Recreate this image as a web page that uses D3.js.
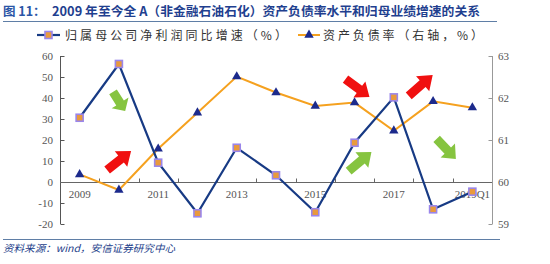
<!DOCTYPE html>
<html>
<head>
<meta charset="utf-8">
<script src="https://cdn.jsdelivr.net/npm/d3@7"></script>
<style>
  body { margin: 0; background: #fff; }
  .cjk { font-family: "Noto Sans CJK SC", sans-serif; }
  .num { font-family: "Liberation Serif", "DejaVu Serif", serif; }
</style>
</head>
<body>
<script>
// categories and series
var years = ["2009","2010","2011","2012","2013","2014","2015","2016","2017","2018","2019Q1"];
var profitGrowth = [30.6, 56.2, 9.2, -14.9, 16.3, 3.2, -14.4, 18.7, 40.3, -13.0, -4.6];
var debtRatio = [60.18, 59.81, 60.79, 61.65, 62.51, 62.13, 61.81, 61.89, 61.22, 61.92, 61.77];
var leftTicks = [-20, -10, 0, 10, 20, 30, 40, 50, 60];
var rightTicks = [59, 60, 61, 62, 63];
var xLabels = ["2009", "2011", "2013", "2015", "2017", "2019Q1"];
// annotation arrows: [tail index, tail value, head index, head value] in left-axis units
var redArrows = [[0.70, 5.7, 1.31, 14.8], [6.77, 49, 7.38, 40.5], [8.38, 41, 8.99, 51]];
var greenArrows = [[0.85, 42.9, 1.16, 33.8], [6.85, 5.2, 7.43, 14.3], [9.09, 20.5, 9.58, 11]];

var width = 550, height = 264;
var svg = d3.select("body").append("svg")
    .attr("width", width).attr("height", height);

var x = d3.scaleLinear().domain([-0.5, years.length - 0.5]).range([60, 492]);
var yL = d3.scaleLinear().domain([-20, 60]).range([224, 56]);
var yR = d3.scaleLinear().domain([59, 63]).range([224, 56]);

// title + rules
svg.append("text").attr("class", "cjk")
    .attr("x", 3).attr("y", 16)
    .attr("font-size", 12.5).attr("font-weight", "bold").attr("fill", "#2a55a6")
    .text("图 11：");
svg.append("text").attr("class", "cjk")
    .attr("x", 52).attr("y", 16)
    .attr("font-size", 12.5).attr("font-weight", "bold").attr("fill", "#1f3f8f")
    .attr("textLength", 428).attr("lengthAdjust", "spacingAndGlyphs")
    .text("2009 年至今全 A（非金融石油石化）资产负债率水平和归母业绩增速的关系");
svg.append("line").attr("x1", 3).attr("x2", 497).attr("y1", 21.5).attr("y2", 21.5)
    .attr("stroke", "#5f7ea6").attr("stroke-width", 1.2);
svg.append("line").attr("x1", 3).attr("x2", 500).attr("y1", 239.5).attr("y2", 239.5)
    .attr("stroke", "#5f7ea6").attr("stroke-width", 1.2);
svg.append("text").attr("class", "cjk")
    .attr("x", 3).attr("y", 252)
    .attr("font-size", 10).attr("font-style", "italic").attr("fill", "#23408a")
    .attr("textLength", 172).attr("lengthAdjust", "spacingAndGlyphs")
    .text("资料来源：wind，安信证券研究中心");

// left axis
var gl = svg.append("g");
gl.append("line").attr("x1", 60.5).attr("x2", 60.5).attr("y1", yL(60)).attr("y2", yL(-20))
    .attr("stroke", "#555");
gl.selectAll(".lt").data(leftTicks).enter().append("line")
    .attr("x1", 60.5).attr("x2", 64.5)
    .attr("y1", function(d) { return Math.round(yL(d)) + 0.5; })
    .attr("y2", function(d) { return Math.round(yL(d)) + 0.5; })
    .attr("stroke", "#555");
gl.selectAll("text").data(leftTicks).enter().append("text").attr("class", "num")
    .attr("x", 53).attr("y", function(d) { return yL(d) + 4; })
    .attr("text-anchor", "end").attr("font-size", 11).attr("fill", "#555")
    .text(function(d) { return d; });

// right axis
var gr = svg.append("g");
gr.append("line").attr("x1", 492.5).attr("x2", 492.5).attr("y1", yR(63)).attr("y2", yR(59))
    .attr("stroke", "#999");
gr.selectAll(".rt").data(rightTicks).enter().append("line")
    .attr("x1", 488.5).attr("x2", 492.5)
    .attr("y1", function(d) { return Math.round(yR(d)) + 0.5; })
    .attr("y2", function(d) { return Math.round(yR(d)) + 0.5; })
    .attr("stroke", "#999");
gr.selectAll("text").data(rightTicks).enter().append("text").attr("class", "num")
    .attr("x", 498).attr("y", function(d) { return yR(d) + 4; })
    .attr("font-size", 11).attr("fill", "#555")
    .text(function(d) { return d; });

// x axis at zero
var zy = Math.round(yL(0)) + 0.5;
svg.append("line").attr("x1", 60).attr("x2", 492).attr("y1", zy).attr("y2", zy)
    .attr("stroke", "#666");
svg.selectAll(".xt").data(d3.range(1, years.length)).enter().append("line")
    .attr("x1", function(d) { return Math.round(x(d - 0.5)) + 0.5; })
    .attr("x2", function(d) { return Math.round(x(d - 0.5)) + 0.5; })
    .attr("y1", zy - 4).attr("y2", zy)
    .attr("stroke", "#666");
svg.selectAll(".xl").data(xLabels).enter().append("text").attr("class", "num")
    .attr("x", function(d) { return x(years.indexOf(d)); })
    .attr("y", 198).attr("text-anchor", "middle")
    .attr("font-size", 11).attr("fill", "#555")
    .text(function(d) { return d; });

// arrows
function arrowPath(a) {
    var x0 = x(a[0]), y0 = yL(a[1]), x1 = x(a[2]), y1 = yL(a[3]);
    var len = Math.hypot(x1 - x0, y1 - y0);
    var ang = Math.atan2(y1 - y0, x1 - x0) * 180 / Math.PI;
    var h = len * 0.42;
    var p = "M0,-4.5L" + (len - h) + ",-4.5L" + (len - h) + ",-10L" + len + ",0L" +
        (len - h) + ",10L" + (len - h) + ",4.5L0,4.5Z";
    return { d: p, t: "translate(" + x0 + "," + y0 + ") rotate(" + ang + ")" };
}
svg.selectAll(".ra").data(redArrows).enter().append("path")
    .attr("d", function(d) { return arrowPath(d).d; })
    .attr("transform", function(d) { return arrowPath(d).t; })
    .attr("fill", "#f01010");
svg.selectAll(".ga").data(greenArrows).enter().append("path")
    .attr("d", function(d) { return arrowPath(d).d; })
    .attr("transform", function(d) { return arrowPath(d).t; })
    .attr("fill", "#86c440");

// debt ratio line (orange)
var lineR = d3.line().x(function(d, i) { return x(i); }).y(function(d) { return yR(d); });
svg.append("path").datum(debtRatio).attr("d", lineR)
    .attr("fill", "none").attr("stroke", "#f5a11f").attr("stroke-width", 2);
var tri = d3.symbol().type(d3.symbolTriangle).size(38);
svg.selectAll(".tri").data(debtRatio).enter().append("path")
    .attr("d", tri)
    .attr("transform", function(d, i) { return "translate(" + x(i) + "," + yR(d) + ")"; })
    .attr("fill", "#1c2a8c");

// profit growth line (navy)
var lineL = d3.line().x(function(d, i) { return x(i); }).y(function(d) { return yL(d); });
svg.append("path").datum(profitGrowth).attr("d", lineL)
    .attr("fill", "none").attr("stroke", "#173a84").attr("stroke-width", 2.2);
svg.selectAll(".sq").data(profitGrowth).enter().append("rect")
    .attr("x", function(d, i) { return x(i) - 3.5; })
    .attr("y", function(d) { return yL(d) - 3.5; })
    .attr("width", 7).attr("height", 7)
    .attr("fill", "#e99a3c").attr("stroke", "#9a86ea").attr("stroke-width", 1.6);

// legend
var lg = svg.append("g");
lg.append("line").attr("x1", 37).attr("x2", 60).attr("y1", 35).attr("y2", 35)
    .attr("stroke", "#173a84").attr("stroke-width", 2.2);
lg.append("rect").attr("x", 45).attr("y", 31.5).attr("width", 7).attr("height", 7)
    .attr("fill", "#e99a3c").attr("stroke", "#9a86ea").attr("stroke-width", 1.6);
lg.append("text").attr("class", "cjk")
    .attr("x", 65).attr("y", 39.5).attr("font-size", 12).attr("fill", "#333")
    .attr("textLength", 222).attr("lengthAdjust", "spacing")
    .text("归属母公司净利润同比增速（%）");
lg.append("line").attr("x1", 298).attr("x2", 320).attr("y1", 35).attr("y2", 35)
    .attr("stroke", "#f5a11f").attr("stroke-width", 2);
lg.append("path").attr("d", tri).attr("transform", "translate(309,35)").attr("fill", "#1c2a8c");
lg.append("text").attr("class", "cjk")
    .attr("x", 323).attr("y", 39.5).attr("font-size", 12).attr("fill", "#333")
    .attr("textLength", 160).attr("lengthAdjust", "spacing")
    .text("资产负债率（右轴，%）");
</script>
</body>
</html>
